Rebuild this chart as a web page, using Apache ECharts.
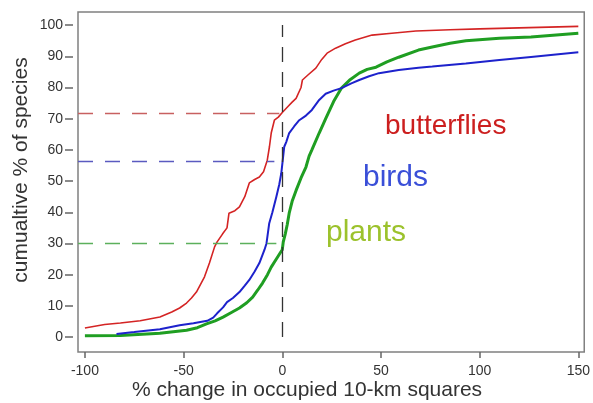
<!DOCTYPE html>
<html>
<head>
<meta charset="utf-8">
<script src="https://cdn.jsdelivr.net/npm/echarts@6/dist/echarts.min.js"></script>
<style>
  html, body { margin: 0; padding: 0; background: #fff; }
  #main { width: 593px; height: 403px; }
</style>
</head>
<body>
<div id="main"></div>
<script>
// tick labels
let xTicks = [-100, -50, 0, 50, 100, 150]
let yTicks = [0, 10, 20, 30, 40, 50, 60, 70, 80, 90, 100]

// butterflies (red)
let butterflyX = [-100, -99, -90, -82, -72, -62, -56, -52, -48.5, -46, -43.5, -39.4, -36.9, -34.3, -33, -30.3, -28, -27, -24, -21.7, -19, -16.7, -14, -11.6, -9.5, -7.6, -6.5, -5.6, -4, -2, 0, 3, 5, 7, 9.5, 10.2, 13, 17, 20, 22.7, 27, 32, 37, 45.5, 55.5, 67.7, 85, 100, 125, 150]
let butterflyY = [2.9, 3.5, 4.0, 4.5, 5.2, 6.4, 8.0, 9.3, 10.9, 12.5, 14.4, 19.3, 23.7, 28.9, 30.5, 33, 35, 39.7, 40.5, 41.7, 45, 49.4, 50.5, 51.3, 53, 56.7, 61, 65.4, 69.5, 70.5, 72, 74, 75.3, 76.5, 80, 82.4, 84, 86.2, 89, 91, 92.6, 94, 95.2, 96.8, 97.4, 98.1, 98.5, 98.8, 99.2, 99.6]

// birds (blue)
let birdX = [-84, -75, -62, -52, -45, -38, -35, -33, -30, -28, -25, -21.7, -19, -16.7, -14, -11.6, -9, -8, -6.6, -5, -3, -1.5, -0.5, 0.3, 1, 2, 3.5, 6, 8.6, 12, 15, 18.7, 22, 26, 30, 35, 39, 44, 49, 59, 69, 76, 93, 110, 126, 150]
let birdY = [1.0, 1.6, 2.5, 3.8, 4.4, 5.2, 6.2, 7.6, 9.5, 11.2, 12.5, 14.4, 16.5, 18.3, 21, 23.7, 28, 30, 36.5, 40, 45, 49, 52.5, 57, 61, 62.5, 65.4, 67.5, 69.5, 71, 72.8, 76, 78, 79, 79.8, 81.3, 82.4, 83.6, 84.6, 85.6, 86.3, 86.7, 87.7, 88.8, 89.8, 91.3]

// plants (green)
let plantX = [-100, -82, -62, -48.5, -43, -38.4, -34, -30, -26, -21.7, -18, -15, -12.5, -10, -7.5, -5.6, -3, -1, 0, 0.5, 1.5, 2.5, 3.5, 5, 7, 9.5, 12, 13.6, 15, 18.7, 22, 26, 30, 34, 39, 43, 47.5, 53, 59, 69, 76, 85, 93, 110, 126, 150]
let plantY = [0.4, 0.5, 1.2, 2.2, 3, 4.2, 5.2, 6.4, 7.8, 9.3, 11, 12.8, 15, 17.3, 20, 22.4, 25, 27, 28, 30.5, 33, 36, 39.7, 43.5, 47, 51, 54.5, 58, 60, 65.4, 70, 75.5, 79.8, 82.3, 84.6, 85.8, 86.5, 88.2, 89.7, 92, 93, 94.2, 95, 95.8, 96.2, 97.4]

// dashed guide levels: [y level, x end]
let butterflyGuide = [71.8, -1.5]
let birdGuide = [56.2, -4]
let plantGuide = [30, -3]
let zeroLine = [0, 100]

let xMin = -103.5, xMax = 153
let yMin = -4.8, yMax = 104.2

function zip(xs, ys) {
  return xs.map((x, i) => [x, ys[i]])
}

function guide(level, color) {
  return {
    silent: true,
    symbol: 'none',
    label: { show: false },
    lineStyle: { color: color, type: [15, 12], width: 1.3 },
    data: [[{ coord: [xMin, level[0]] }, { coord: [level[1], level[0]] }]]
  }
}

let chart = echarts.init(document.getElementById('main'))
let font = 'Liberation Sans, Arial, sans-serif'

let option = {
  animation: false,
  grid: {
    left: 78, right: 5, top: 12, bottom: 51,
    show: true, borderColor: '#808080', borderWidth: 1.5, backgroundColor: '#fff'
  },
  xAxis: {
    type: 'value', min: xMin, max: xMax,
    axisLine: { show: false, onZero: false },
    splitLine: { show: false },
    axisTick: { show: true, length: 6, inside: false, customValues: xTicks, lineStyle: { color: '#666', width: 1.5 } },
    axisLabel: { customValues: xTicks, margin: 12, fontSize: 14, color: '#333', fontFamily: font }
  },
  yAxis: {
    type: 'value', min: yMin, max: yMax, offset: 5,
    axisLine: { show: false, onZero: false },
    splitLine: { show: false },
    axisTick: { show: true, length: 8, customValues: yTicks, lineStyle: { color: '#666', width: 1.5 } },
    axisLabel: { customValues: yTicks, margin: 10, fontSize: 14, color: '#333', fontFamily: font }
  },
  graphic: [
    { type: 'text', x: 307, y: 390, style: { text: '% change in occupied 10-km squares', font: '21px ' + font, fill: '#333', align: 'center', verticalAlign: 'middle' } },
    { type: 'text', x: 21, y: 170, rotation: Math.PI / 2, style: { text: 'cumualtive % of species', font: '21px ' + font, fill: '#333', align: 'center', verticalAlign: 'middle' } },
    { type: 'text', x: 385, y: 112, style: { text: 'butterflies', font: '28px ' + font, fill: '#cc1f1f', align: 'left', verticalAlign: 'alphabetic' } },
    { type: 'text', x: 363, y: 163, style: { text: 'birds', font: '30px ' + font, fill: '#3a4fd8', align: 'left', verticalAlign: 'alphabetic' } },
    { type: 'text', x: 326, y: 218, style: { text: 'plants', font: '30px ' + font, fill: '#9cc22c', align: 'left', verticalAlign: 'alphabetic' } }
  ],
  series: [
    {
      name: 'plants', type: 'line', data: zip(plantX, plantY), showSymbol: false,
      lineStyle: { color: '#1f9e22', width: 3 },
      markLine: guide(plantGuide, '#5cb05c')
    },
    {
      name: 'birds', type: 'line', data: zip(birdX, birdY), showSymbol: false,
      lineStyle: { color: '#1d22cc', width: 2 },
      markLine: guide(birdGuide, '#5a5ac0')
    },
    {
      name: 'butterflies', type: 'line', data: zip(butterflyX, butterflyY), showSymbol: false,
      lineStyle: { color: '#d42424', width: 1.6 },
      markLine: {
        silent: true, symbol: 'none', label: { show: false },
        lineStyle: { color: '#c86060', type: [15, 12], width: 1.3 },
        data: [
          [{ coord: [xMin, butterflyGuide[0]] }, { coord: [butterflyGuide[1], butterflyGuide[0]] }],
          [{ coord: [0, zeroLine[0]], lineStyle: { color: '#333', type: [15, 10], width: 1.3 } }, { coord: [0, zeroLine[1]] }]
        ]
      }
    }
  ]
}

chart.setOption(option)
</script>
</body>
</html>
